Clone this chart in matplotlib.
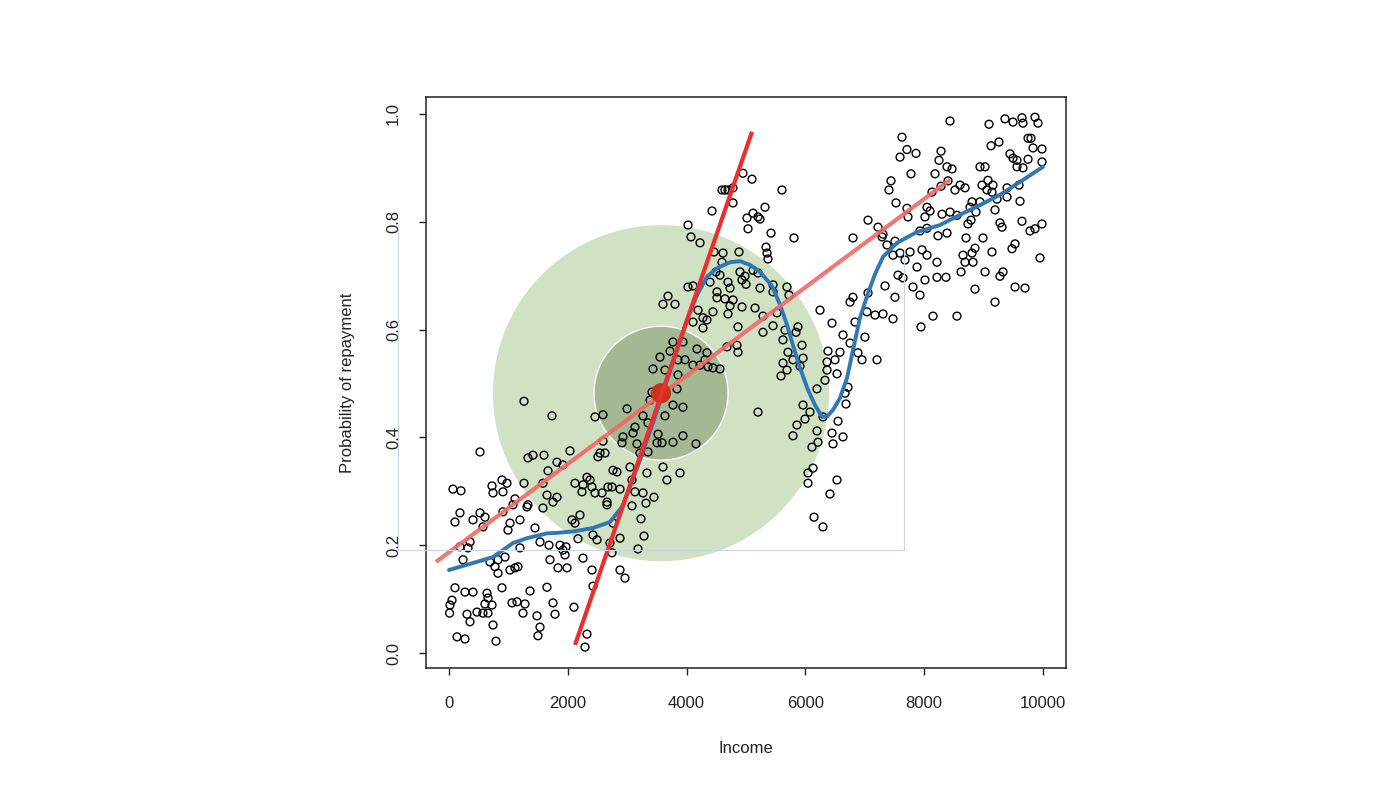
import matplotlib
matplotlib.use("Agg")
import matplotlib.pyplot as plt
from matplotlib.patches import Ellipse
from matplotlib.lines import Line2D

plt.rcParams['font.family'] = ['Liberation Sans', 'DejaVu Sans']

# ---------------- data ----------------
income = [
    67, 202, 724, 892, 976, 741, 909, 1111, 1077, 1330,
    1313, 185, 101, 404, 522, 606, 572, 909, 1027, 1195,
    993, 1448, 1532, 1684, 354, 185, 320, 236, 1195, 690,
    825, 943, 774, 825, 1027, 1162, 1111, 1700, 1835, 1987,
    1869, 1919, 1953, 1970, 2256, 2407, 2879, 2963, 2424, 101,
    269, 404, 51, 17, 10, 303, 354, 640, 657, 606,
    724, 471, 572, 657, 892, 1364, 1061, 1145, 1279, 1246,
    1650, 1481, 1532, 1498, 1751, 1785, 2104, 741, 135, 269,
    791, 2323, 2290,
    1667, 1263, 1582, 1650, 1818, 1751, 1582, 2121, 2323, 2374,
    2256, 2239, 2407, 2458, 2576, 2677, 2761, 2828, 2744, 3081,
    3131, 3266, 3333, 3047, 2660, 2660, 2205, 2071, 2121, 2424,
    2492, 2172, 2761, 2879, 2710, 3232, 3283, 3182, 3081, 2744,
    1919, 3316, 2879,
    1263, 1734, 522, 1599, 1414, 1330, 1818,
    3687, 3603, 3805, 4512, 4512, 4646, 4192, 4108, 4276, 4343,
    4444, 4697, 4276, 3771, 3939, 3721, 3552, 4175, 4343, 3855,
    3973, 4108, 4226, 4360, 4444, 4562, 4310, 3434, 3636, 3855,
    4680, 3418, 3384, 3838, 3771, 3939, 2997, 2593, 2458, 3266,
    3636, 3131, 3098, 3350, 2929, 2912, 3165, 3519, 3502, 3586,
    3771, 3939, 4158, 2593, 2037, 2542, 2626, 2508, 3215, 3350,
    3603, 3670, 3889, 3451,
    4781, 4731, 4933, 5152, 4865, 5286, 5286, 5455, 5522, 5455,
    4848, 4865, 5202,
    6246, 6448, 6633, 6380, 6582, 6498, 6364, 6364, 6532, 6330,
    6195, 6717, 6667, 6683, 6549, 6448, 6633, 6465, 6532, 6414,
    6145, 6296, 5875, 5842, 5623, 5707, 5943, 5960, 5791, 5623,
    5690, 5589, 5960, 6077, 5993, 5858, 5791, 6195, 6212, 6111,
    6044, 6128, 6044, 6296, 5724, 5909, 5657,
    4949, 5101, 4596, 4646, 4697, 4781, 5606, 4781, 4428, 5320,
    5118, 5017, 5202, 5236, 5034, 4024, 5421, 5808, 4074, 4226,
    5337, 5354, 5370, 4461, 4613, 4882, 4596, 4495, 4562, 4899,
    4933, 4983, 5000, 5118, 5202, 4024, 4108, 4394, 4697, 4731,
    5236, 5455, 5690,
    8434, 7626, 7710, 7862, 7593, 8283, 8249, 8384, 8468, 7778,
    7441, 7407, 8182, 8401, 8283, 8131, 7525, 7710, 7727, 8047,
    8098, 8013, 7054, 7222, 7290, 6801, 8300, 8434, 8552, 8603,
    8687, 8518, 8939, 9024, 8973, 9074, 9158, 9057, 9141, 9091,
    9360, 9495, 9646, 9663, 9865, 9916, 9125, 9259, 9748, 9798,
    9444, 9495, 9562, 9832, 9983, 9748, 9983, 9562, 9663, 9394,
    9596, 9613, 9226, 9192, 9394, 8805, 8939, 8771, 8872, 8788,
    8737, 9276, 9310, 9646, 9781, 9865, 9983, 9949, 7929, 8047,
    8232, 8384, 8704, 8990, 8855, 8805, 8653, 8687, 8822, 9529,
    9478, 9141, 9327, 9276, 9529, 9697, 8855, 9192, 8215, 7963,
    8047, 7879, 8215, 8367, 8013, 7811, 7929, 7508, 7559, 7643,
    7677, 7761, 7593, 8620, 9024, 7340, 7054, 6801, 6751, 7374,
    7475, 7306, 7508,
    7037, 7172, 7306, 7475, 8148, 8552, 7946, 6835, 7003, 7205,
    6751, 6885, 6953,
]

repayment = [
    0.304, 0.301, 0.310, 0.321, 0.315, 0.297, 0.299, 0.286, 0.275, 0.275,
    0.271, 0.260, 0.243, 0.247, 0.260, 0.252, 0.234, 0.262, 0.241, 0.247,
    0.228, 0.232, 0.206, 0.200, 0.206, 0.197, 0.195, 0.173, 0.195, 0.169,
    0.173, 0.178, 0.160, 0.148, 0.154, 0.160, 0.158, 0.173, 0.158, 0.158,
    0.200, 0.191, 0.182, 0.197, 0.176, 0.154, 0.154, 0.139, 0.124, 0.121,
    0.113, 0.113, 0.098, 0.089, 0.074, 0.072, 0.058, 0.111, 0.102, 0.091,
    0.089, 0.076, 0.074, 0.074, 0.121, 0.115, 0.093, 0.095, 0.091, 0.074,
    0.122, 0.069, 0.048, 0.032, 0.093, 0.072, 0.085, 0.052, 0.030, 0.026,
    0.022, 0.035, 0.011,
    0.338, 0.315, 0.315, 0.293, 0.289, 0.280, 0.269, 0.315, 0.326, 0.321,
    0.312, 0.299, 0.308, 0.297, 0.297, 0.308, 0.339, 0.336, 0.308, 0.321,
    0.299, 0.297, 0.334, 0.345, 0.280, 0.275, 0.256, 0.247, 0.241, 0.219,
    0.210, 0.212, 0.241, 0.213, 0.204, 0.249, 0.217, 0.193, 0.273, 0.186,
    0.349, 0.278, 0.304,
    0.467, 0.440, 0.373, 0.367, 0.367, 0.362, 0.354,
    0.662, 0.647, 0.647, 0.670, 0.659, 0.657, 0.636, 0.614, 0.622, 0.618,
    0.633, 0.629, 0.603, 0.577, 0.577, 0.560, 0.549, 0.564, 0.557, 0.544,
    0.544, 0.534, 0.534, 0.531, 0.529, 0.527, 0.544, 0.527, 0.525, 0.516,
    0.568, 0.484, 0.469, 0.490, 0.460, 0.456, 0.453, 0.442, 0.438, 0.440,
    0.440, 0.419, 0.408, 0.427, 0.401, 0.390, 0.388, 0.406, 0.390, 0.390,
    0.391, 0.403, 0.388, 0.393, 0.375, 0.371, 0.371, 0.364, 0.371, 0.373,
    0.345, 0.321, 0.334, 0.289,
    0.655, 0.644, 0.642, 0.640, 0.605, 0.625, 0.595, 0.607, 0.631, 0.670,
    0.571, 0.558, 0.447,
    0.636, 0.612, 0.590, 0.560, 0.558, 0.544, 0.540, 0.525, 0.518, 0.506,
    0.490, 0.493, 0.482, 0.462, 0.430, 0.408, 0.401, 0.388, 0.321, 0.295,
    0.252, 0.234, 0.605, 0.595, 0.581, 0.558, 0.571, 0.547, 0.544, 0.538,
    0.525, 0.514, 0.460, 0.447, 0.434, 0.423, 0.403, 0.412, 0.391, 0.382,
    0.334, 0.343, 0.315, 0.438, 0.664, 0.532, 0.599,
    0.890, 0.879, 0.859, 0.859, 0.859, 0.863, 0.859, 0.835, 0.820, 0.827,
    0.816, 0.807, 0.809, 0.805, 0.787, 0.794, 0.779, 0.770, 0.772, 0.761,
    0.753, 0.742, 0.731, 0.744, 0.742, 0.744, 0.725, 0.707, 0.701, 0.707,
    0.692, 0.699, 0.684, 0.710, 0.705, 0.679, 0.681, 0.688, 0.688, 0.677,
    0.677, 0.683, 0.679,
    0.987, 0.957, 0.934, 0.927, 0.920, 0.931, 0.914, 0.902, 0.898, 0.889,
    0.876, 0.859, 0.889, 0.876, 0.866, 0.855, 0.835, 0.825, 0.809, 0.827,
    0.820, 0.809, 0.803, 0.790, 0.772, 0.770, 0.814, 0.818, 0.812, 0.868,
    0.863, 0.859, 0.902, 0.902, 0.868, 0.877, 0.868, 0.859, 0.855, 0.981,
    0.991, 0.985, 0.993, 0.983, 0.994, 0.983, 0.941, 0.948, 0.955, 0.955,
    0.926, 0.918, 0.914, 0.937, 0.935, 0.916, 0.911, 0.902, 0.900, 0.863,
    0.868, 0.838, 0.842, 0.822, 0.846, 0.837, 0.837, 0.827, 0.818, 0.803,
    0.796, 0.798, 0.790, 0.801, 0.783, 0.787, 0.796, 0.733, 0.783, 0.788,
    0.774, 0.779, 0.770, 0.770, 0.751, 0.742, 0.738, 0.725, 0.725, 0.759,
    0.750, 0.744, 0.707, 0.699, 0.679, 0.677, 0.675, 0.651, 0.725, 0.748,
    0.738, 0.716, 0.697, 0.697, 0.692, 0.679, 0.664, 0.660, 0.701, 0.696,
    0.729, 0.744, 0.742, 0.707, 0.707, 0.681, 0.668, 0.660, 0.651, 0.757,
    0.738, 0.777, 0.764,
    0.633, 0.627, 0.629, 0.620, 0.625, 0.625, 0.605, 0.614, 0.586, 0.544,
    0.575, 0.557, 0.544,
]

# smooth (loess-like) fit
smooth_income = [0, 404, 741, 1077, 1313, 1650, 1835, 2121, 2424, 2710, 2912,
                 3047, 3215, 3434, 4007, 4175, 4343, 4512, 4731, 4899, 5067,
                 5236, 5438, 5572, 5690, 5791, 5909, 6044, 6162, 6279, 6364,
                 6465, 6582, 6700, 6801, 6919, 7037, 7172, 7306, 7542, 7879,
                 8266, 8603, 8939, 9276, 9613, 10000]
smooth_prob = [0.154, 0.167, 0.178, 0.204, 0.213, 0.222, 0.223, 0.226, 0.232, 0.243, 0.271,
               0.308, 0.358, 0.427, 0.618, 0.664, 0.698, 0.714, 0.725, 0.727, 0.720,
               0.707, 0.681, 0.646, 0.609, 0.571, 0.529, 0.488, 0.460, 0.438, 0.439,
               0.451, 0.473, 0.510, 0.562, 0.622, 0.662, 0.703, 0.735, 0.761, 0.781,
               0.794, 0.813, 0.831, 0.850, 0.874, 0.902]

# straight lines through the local point
global_line_income = [-219, 8434]
global_line_prob = [0.169, 0.878]
local_line_income = [2121, 5101]
local_line_prob = [0.015, 0.967]
center_income = 3569
center_prob = 0.482

x_ticks = [0, 2000, 4000, 6000, 8000, 10000]
y_ticks = [0.0, 0.2, 0.4, 0.6, 0.8, 1.0]

# ---------------- figure ----------------
W, H = 1400, 787
fig = plt.figure(figsize=(W / 100, H / 100), dpi=100)
ax_l, ax_r, ax_t, ax_b = 426, 1066, 97, 668
ax = fig.add_axes([ax_l / W, 1 - ax_b / H, (ax_r - ax_l) / W, (ax_b - ax_t) / H])

xlim = (-387, 10387)
ylim = (-0.0278, 1.0315)
ax.set_xlim(*xlim)
ax.set_ylim(*ylim)

# pixel radius -> data half-widths
px_x = (ax_r - ax_l) / (xlim[1] - xlim[0])
px_y = (ax_b - ax_t) / (ylim[1] - ylim[0])

def disc(r_px, color, z, edge='none', lw=0):
    e = Ellipse((center_income, center_prob), 2 * r_px / px_x, 2 * r_px / px_y,
                facecolor=color, edgecolor=edge, linewidth=lw, zorder=z)
    ax.add_patch(e)

disc(168, '#d0e1c4', 1)
disc(67, '#a3b893', 1.2, edge='white', lw=1.0)

ax.scatter(income, repayment, s=32, facecolors='none', edgecolors='black',
           linewidths=1.0, zorder=2)

ax.plot(smooth_income, smooth_prob, color='#2f78b5', lw=2.8, zorder=3,
        solid_capstyle='round', solid_joinstyle='round')
ax.plot(global_line_income, global_line_prob, color='#f06b68', lw=3.0,
        alpha=0.92, zorder=4, solid_capstyle='butt')
ax.scatter([center_income], [center_prob], s=210, color='#c8331a', zorder=4.5,
           edgecolors='none')
ax.plot(local_line_income, local_line_prob, color='#ee2d2d', lw=3.0, zorder=5,
        solid_capstyle='butt')

ax.set_xticks(x_ticks)
ax.set_xticklabels([str(v) for v in x_ticks])
ax.set_yticks(y_ticks)
ax.set_yticklabels([f"{v:.1f}" for v in y_ticks], rotation=90, va='center')

for s in ax.spines.values():
    s.set_linewidth(1.1)
    s.set_color('#222222')
ax.tick_params(axis='both', direction='out', length=5, width=1.0,
               colors='#222222', labelsize=12)
ax.tick_params(axis='x', pad=15)
ax.tick_params(axis='y', pad=13)

ax.set_xlabel('Income', fontsize=12, labelpad=22, color='#222222')
ax.set_ylabel('Probability of repayment', fontsize=12, labelpad=22, color='#222222')

# faint rectangle (screen artifact in the reference)
def fig_line(x0, y0, x1, y1):
    fig.add_artist(Line2D([x0 / W, x1 / W], [1 - y0 / H, 1 - y1 / H],
                          transform=fig.transFigure, color='#c9d6e8', lw=0.8,
                          zorder=0.5))

fig_line(398, 225, 398, 550)
fig_line(398, 550, 904, 550)
fig_line(904, 250, 904, 550)

fig.savefig('out.png', dpi=100, facecolor='white')
